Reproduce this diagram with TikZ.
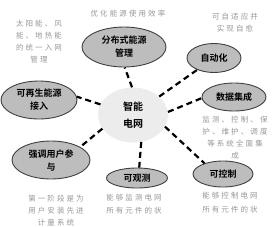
\documentclass[tikz,border=0pt]{standalone}
\usepackage{fontspec}
\usepackage{tikz}
\usetikzlibrary{shapes.geometric}
\newfontfamily\cjk{Noto Sans CJK SC}[BoldFont={Noto Sans CJK SC Bold}]
\newfontfamily\cjknote{Noto Sans CJK SC}[LetterSpace=28]
\definecolor{goalfill}{HTML}{BDBDBD}
\definecolor{hubfill}{HTML}{ECECEC}
\definecolor{notegray}{HTML}{979797}
\tikzset{
  hub/.style={
    shape = ellipse,
    fill = hubfill,
    inner sep = 0pt,
    align = center,
    font = \cjk\bfseries\fontsize{10}{17}\selectfont
  },
  goal/.style={
    shape = ellipse,
    draw = black!75,
    fill = goalfill,
    line width = 0.9pt,
    inner sep = 0pt,
    align = center,
    font = \cjk\bfseries\fontsize{9}{13}\selectfont
  },
  note/.style={
    text = notegray,
    inner sep = 0pt,
    align = center,
    font = \cjknote\fontsize{7.5}{12}\selectfont
  },
  link/.style={
    line width = 2.2pt,
    dash pattern = on 6pt off 4pt
  }
}

\begin{document}
\begin{tikzpicture}[x=1pt,y=-1pt]
    \useasboundingbox (0,0) rectangle (276,226);

    \node[hub, minimum width=70pt, minimum height=55pt] (net) at (133,115) {智能\\电网};

    \node[goal, minimum width=84pt, minimum height=40pt] (distr) at (124,47) {分布式能源\\管理};
    \node[goal, minimum width=76pt, minimum height=38pt] (renew) at (39,100) {可再生能源\\接入};
    \node[goal, minimum width=54pt, minimum height=29pt] (auto) at (214,58) {自动化};
    \node[goal, minimum width=64pt, minimum height=28pt] (data) at (234,97) {数据集成};
    \node[goal, minimum width=60pt, minimum height=26pt] (ctrl) at (223,174) {可控制};
    \node[goal, minimum width=61pt, minimum height=20pt] (obs) at (137,178) {可观测};
    \node[goal, minimum width=78pt, minimum height=38pt] (user) at (51,160) {强调用户参\\与};

    % notes
    \node[note] (distrnote) at (128,14) {优化能源使用效率};
    \node[note] (renewnote) at (39,42) {太阳能、风\\能、地热能\\的统一入网\\管理};
    \node[note] (autonote) at (235,23) {可自适应并\\实现自愈};
    \node[note] (datanote) at (235,138) {监测、控制、保\\护、维护、调度\\等系统全面集\\成};
    \node[note, font=\cjknote\fontsize{7.5}{14}\selectfont] (ctrlnote) at (230,203) {能够控制电网\\所有元件的状};
    \node[note, font=\cjknote\fontsize{7.5}{13}\selectfont] (obsnote) at (134,204) {能够监测电网\\所有元件的状};
    \node[note] (usernote) at (56,211) {第一阶段是为\\用户安装先进\\计量系统};

    \draw[link] (net.92) -- (distr.-88);
    \draw[link] (net.162) -- (renew.5);
    \draw[link] (net) -- (auto);
    \draw[link] (net.5) -- (data.182);
    \draw[link] (net.-20) -- (ctrl.150);
    \draw[link] (net.-73) -- (obs.78);
    \draw[link] (net.204) -- (user.24);
\end{tikzpicture}
\end{document}
